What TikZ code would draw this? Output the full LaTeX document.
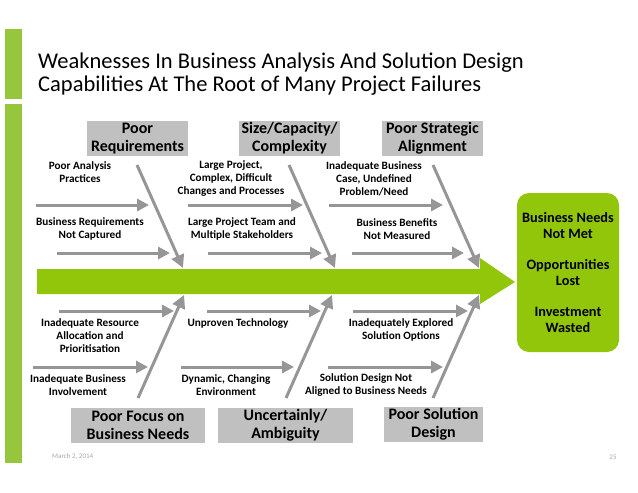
\documentclass[tikz,border=0pt]{standalone}
\usepackage{fontspec}
\setmainfont{Carlito}
\usetikzlibrary{arrows.meta, positioning, calc}
\definecolor{spinegreen}{RGB}{146,198,10}
\definecolor{bargreen}{RGB}{150,198,60}
\definecolor{bonegray}{RGB}{150,150,150}
\definecolor{catgray}{RGB}{192,192,192}
\tikzset{
    % gray heading box for each cause category
    catbox/.style={fill=catgray, font=\bfseries\fontsize{16}{18}\selectfont,
        align=center, inner sep=0pt, minimum height=35pt},
    % small bold cause texts
    cause/.style={font=\bfseries\fontsize{11.2}{13}\selectfont, align=center, inner sep=0pt},
    % diagonal bones and horizontal sub-causes
    bone/.style={-{Triangle[length=13pt, width=13pt]}, line width=3pt, draw=bonegray},
    twig/.style={-{Triangle[length=12pt, width=12pt]}, line width=3pt, draw=bonegray},
}

\begin{document}
\begin{tikzpicture}[x=1pt, y=-1pt]
    \useasboundingbox (0,0) rectangle (638,493);

    % ---- side bars and title ----
    \fill[bargreen] (5,29) rectangle (22,99);
    \fill[bargreen] (5,104) rectangle (22,463);
    \node[anchor=north west, align=left, inner sep=0pt,
          font=\fontsize{22.5}{23}\selectfont] (title) at (38,53)
        {Weaknesses In Business Analysis And Solution Design\\
         Capabilities At The Root of Many Project Failures};

    % ---- spine ----
    \fill[spinegreen] (37,269) -- (480,269) -- (480,258) -- (515,282)
        -- (480,304) -- (480,294) -- (37,294) -- cycle;
    \node[fill=spinegreen, rounded corners=12pt, minimum width=102pt, minimum height=159pt,
          font=\bfseries\fontsize{14.3}{16}\selectfont, align=center] (effect) at (568,272.5)
        {Business Needs\\Not Met\\[15pt]Opportunities\\Lost\\[15pt]Investment\\Wasted};

    % ---- category boxes ----
    \node[catbox, minimum width=101pt] (reqs) at (137.5,138.5) {Poor\\Requirements};
    \node[catbox, minimum width=101pt] (size) at (289.5,138.5) {Size/Capacity/\\Complexity};
    \node[catbox, minimum width=101pt] (strat) at (432.5,138.5) {Poor Strategic\\Alignment};
    \node[catbox, minimum width=134pt] (focus) at (138,425.5) {Poor Focus on\\Business Needs};
    \node[catbox, minimum width=135pt] (uncert) at (285.5,425.5) {Uncertainly/\\Ambiguity};
    \node[catbox, minimum width=99pt] (soldes) at (433.5,424.5) {Poor Solution\\Design};

    % ---- bones ----
    \coordinate (b1s) at (137,165); \coordinate (b1e) at (183,268);
    \coordinate (b2s) at (289,165); \coordinate (b2e) at (335,268);
    \coordinate (b3s) at (433,165); \coordinate (b3e) at (479,268);
    \coordinate (b4s) at (138,398); \coordinate (b4e) at (184,295);
    \coordinate (b5s) at (286,398); \coordinate (b5e) at (332,295);
    \coordinate (b6s) at (433,398); \coordinate (b6e) at (479,295);
    \foreach \b in {1,...,6}{ \draw[bone] (b\b s) -- (b\b e); }

    % ---- sub-cause arrows ----
    \foreach \n/\xa/\xb/\y in {t1/36/149/205, t2/188/303/205, t3/329/443/205,
                               t4/57/170/253, t5/208/322/253, t6/352/464/253,
                               u1/59/174/311, u2/207/321/311, u3/353/468/311,
                               u4/33/148/367, u5/181/294/367, u6/328/443/367}{
        \coordinate (\n a) at (\xa,\y);
        \coordinate (\n b) at (\xb,\y);
        \draw[twig] (\n a) -- (\n b);
    }

    % ---- sub-cause labels ----
    \node[cause] (c1) at (80,172) {Poor Analysis\\Practices};
    \node[cause] (c2) at (231,179) {Large Project,\\Complex, Difficult\\Changes and Processes};
    \node[cause] (c3) at (374,179) {Inadequate Business\\Case, Undefined\\Problem/Need};
    \node[cause] (c4) at (90,229) {Business Requirements\\Not Captured};
    \node[cause] (c5) at (242,229) {Large Project Team and\\Multiple Stakeholders};
    \node[cause] (c6) at (397,229) {Business Benefits\\Not Measured};
    \node[cause] (c7) at (90,336) {Inadequate Resource\\Allocation and\\Prioritisation};
    \node[cause] (c8) at (238,324) {Unproven Technology};
    \node[cause] (c9) at (401,330) {Inadequately Explored\\Solution Options};
    \node[cause] (c10) at (78,385) {Inadequate Business\\Involvement};
    \node[cause] (c11) at (226,385) {Dynamic, Changing\\Environment};
    \node[cause] (c12) at (366,385) {Solution Design Not\\Aligned to Business Needs};

    % ---- footer ----
    \node[font=\fontsize{7}{8}\selectfont, text=gray!70, anchor=west, inner sep=0pt]
        (date) at (52,457) {March 2, 2014};
    \node[font=\fontsize{7}{8}\selectfont, text=gray!70, inner sep=0pt] (page) at (613,457) {25};

\end{tikzpicture}
\end{document}
